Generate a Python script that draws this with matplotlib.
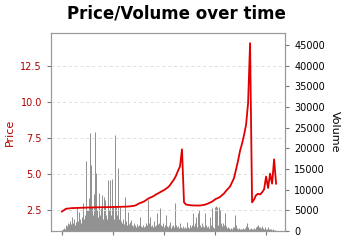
import matplotlib
matplotlib.use("Agg")
import matplotlib.pyplot as plt
import numpy as np

# price, one reading every 2 days
price_days = np.arange(0, 216, 2)
price = [2.36, 2.45, 2.55, 2.57, 2.58, 2.60, 2.60, 2.61, 2.61, 2.62,
         2.62, 2.63, 2.63, 2.64, 2.64, 2.64, 2.65, 2.65, 2.65, 2.66,
         2.66, 2.66, 2.66, 2.67, 2.67, 2.67, 2.68, 2.68, 2.68, 2.69,
         2.69, 2.70, 2.70, 2.71, 2.72, 2.74, 2.76, 2.80, 2.88, 2.95,
         3.00, 3.06, 3.15, 3.25, 3.32, 3.38, 3.45, 3.55, 3.62, 3.70,
         3.78, 3.85, 3.95, 4.05, 4.20, 4.40, 4.60, 4.85, 5.20, 5.50,
         6.70, 3.00, 2.85, 2.82, 2.80, 2.79, 2.78, 2.78, 2.78, 2.78,
         2.80, 2.82, 2.86, 2.92, 2.98, 3.05, 3.15, 3.25, 3.30, 3.38,
         3.50, 3.62, 3.80, 3.95, 4.10, 4.40, 4.70, 5.30, 5.90, 6.60,
         7.10, 7.70, 8.40, 9.90, 14.1, 3.00, 3.20, 3.50, 3.60, 3.55,
         3.70, 3.90, 4.80, 4.00, 5.00, 4.30, 6.00, 4.30]

# daily volume
vol_days = np.arange(0, 214)
volume = [300, 500, 800, 600, 1500, 1200, 2000, 1800, 2500, 1600,
          3400, 2000, 2800, 1500, 2200, 5600, 2500, 4500, 3000, 2000,
          3500, 6800, 3000, 4000, 17000, 5000, 5000, 8000, 23700, 16000,
          6000, 4000, 9000, 24000, 14000, 5000, 3500, 9200, 4000, 5500,
          8700, 3000, 8200, 7500, 4000, 3000, 12300, 5000, 12300, 4000,
          12600, 6000, 3000, 23200, 6000, 4000, 15200, 3000, 5800, 2500,
          2000, 3000, 1800, 8200, 2500, 1500, 4500, 1800, 2200, 2700,
          1500, 1200, 2000, 1500, 1000, 1800, 1200, 1400, 3400, 1200,
          900, 1500, 1000, 1300, 2000, 1500, 7500, 2000, 3300, 1200,
          1500, 900, 2500, 1200, 1500, 4300, 1800, 2000, 5600, 1500,
          1200, 2000, 900, 1500, 3900, 1200, 1000, 1500, 2200, 800,
          1200, 1500, 1000, 6800, 1500, 900, 1200, 800, 2000, 1000,
          700, 1200, 800, 1000, 700, 2100, 900, 800, 1400, 1000,
          1500, 4300, 1200, 2000, 3400, 1000, 4300, 5100, 1500, 1000,
          2000, 1200, 900, 4300, 1500, 1000, 1200, 800, 3400, 1500,
          5600, 1000, 800, 5800, 6000, 5800, 1500, 5800, 5000, 2000,
          1200, 2000, 1500, 4300, 1200, 800, 1000, 700, 600, 800,
          600, 900, 1000, 3900, 1500, 800, 600, 700, 500, 600,
          500, 700, 600, 800, 1200, 2000, 900, 600, 500, 700,
          600, 500, 800, 600, 900, 1300, 1500, 1000, 900, 800,
          1200, 700, 600, 900, 500, 400, 900, 600, 400, 500,
          300, 400, 300, 200]

x_ticks = [0, 51, 102, 153, 204]

fig = plt.figure(figsize=(3.46, 2.45), dpi=100)
ax = fig.add_axes([0.147, 0.057, 0.677, 0.808])
ax2 = ax.twinx()

ax2.vlines(vol_days, 0, volume, color="#8f8f8f", linewidth=0.7)
ax2.set_ylim(0, 47900)
ax2.set_yticks(range(0, 50000, 5000))
ax2.tick_params(axis="y", labelsize=7, length=3, colors="#777777", labelcolor="black")
ax2.set_ylabel("Volume", rotation=270, labelpad=11, fontsize=8)

ax.set_zorder(ax2.get_zorder() + 1)
ax.patch.set_visible(False)
ax.plot(price_days, price, color="#e00000", linewidth=1.3)
ax.set_ylim(1.0, 14.8)
ax.set_xlim(-11, 223)
ax.set_yticks([2.5, 5.0, 7.5, 10.0, 12.5])
ax.set_xticks(x_ticks)
ax.set_xticklabels([])
ax.yaxis.grid(True, linestyle=(0, (3, 3)), color="#dddddd", linewidth=0.7)
ax.tick_params(axis="y", labelsize=7, length=3, colors="#777777", labelcolor="#b00000")
ax.tick_params(axis="x", length=3, colors="#777777")
ax.set_ylabel("Price", color="#b00000", fontsize=8, labelpad=4)

for a in (ax, ax2):
    for s in a.spines.values():
        s.set_color("#999999")

fig.suptitle("Price/Volume over time", fontsize=12, fontweight="bold", x=0.51, y=0.98)

fig.savefig("out.png", dpi=100)
